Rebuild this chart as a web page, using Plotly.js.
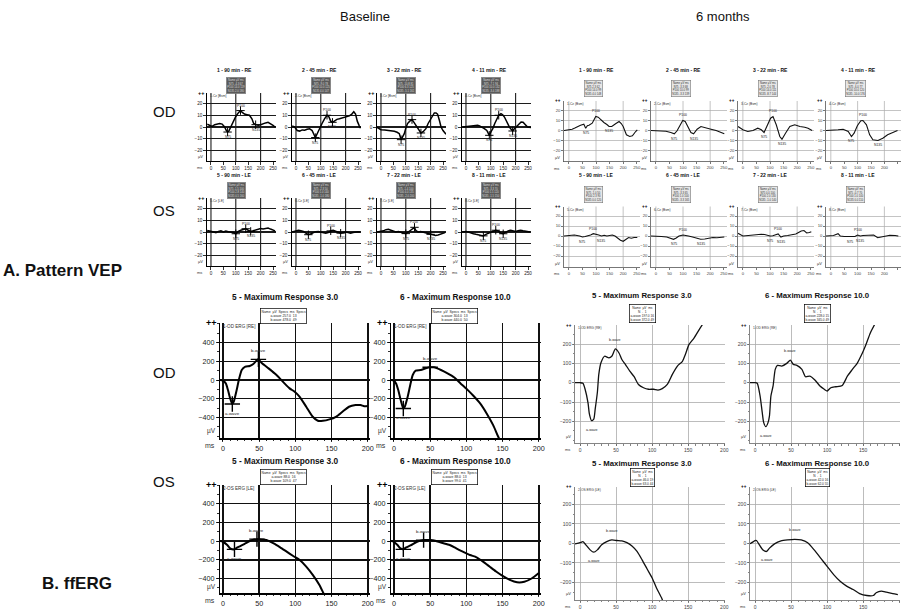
<!DOCTYPE html>
<html><head><meta charset="utf-8">
<script src="https://cdn.plot.ly/plotly-3.0.1.min.js"></script>
<style>html,body{margin:0;padding:0;background:#fff}#chart{width:901px;height:610px}</style>
</head><body><div id="chart"></div>
<script>
// ================= DATA =================
const vepTitles = ['1 - 90 min - RE','2 - 45 min - RE','3 - 22 min - RE','4 - 11 min - RE',
                   '5 - 90 min - LE','6 - 45 min - LE','7 - 22 min - LE','8 - 11 min - LE'];
const ergTitles = ['5 - Maximum Response 3.0','6 - Maximum Response 10.0',
                   '5 - Maximum Response 3.0','6 - Maximum Response 10.0'];
const vepXTicks = [0,50,100,150,200,250];
const vepYTicks = [-20,-10,0,10,20];
const vepGridX  = [0,100,200];
const ergXTicks = [0,50,100,150,200];
const ergBaseYTicks = [-400,-200,0,200,400];
const ergM6YTicks   = [-200,-100,0,100,200];

// Pattern VEP – baseline (ms, µV)
const vepB1_t = [-15,-5,5,15,25,35,45,55,62,67,72,80,90,100,110,119,126,135,145,155,165,172,180,190,200,210,220,230,240,250,258];
const vepB1_v = [2.3,1.5,0.5,2,2.5,3,2.5,0,-3,-4.3,-3.5,0,5,9,12,14,12.5,11,10.5,10,7,3,2,1.5,2,3,3.5,4,3,1.5,0];
const vepB2_t = [-15,-5,5,15,25,35,45,55,65,72,78,85,95,105,115,125,132,140,147,155,165,175,185,195,205,215,225,233,240,247,255,260];
const vepB2_v = [1,0,-3,-3.5,-2.5,-2.8,-2,-1.5,-3,-6,-9,-6,-1,3,7,10,9,5,4,5,6.5,7,7.5,8,8.5,9.5,11,13,11,5,1,-1];
const vepB3_t = [-18,0,15,27,40,54,65,74,81,88,94,100,107,116,125,133,141,150,161,170,181,190,202,210,215,222,228,235,242,250,255,262];
const vepB3_v = [0,-2.3,-2.5,-2.8,-3,-3.7,-4.5,-5.7,-10.8,-8,-5.7,-1,2.9,5,6.3,4,1.4,-2,-5.1,-4,-1.4,3,7.2,10.5,12,12,11,6,0,-3,-4.3,-6.2];
const vepB4_t = [-13,0,10,20,30,40,47,55,65,74,84,94,101,108,116,124,132,141,148,155,165,175,182,188,195,202,212,222,230,235,242,248,262];
const vepB4_v = [0,0.3,0.5,0.6,1,1.4,1.4,1,0,-1.4,-3,-7.1,-4,-1.4,3,7.2,10,11.4,10.5,8.5,4,0,-2,-3.4,-1.5,0,2.5,4.3,4,2.9,1.5,0,-0.5];
const vepB5_t = [-15,0,10,20,30,40,50,60,70,80,90,100,110,120,130,140,150,160,170,180,190,200,210,220,230,240,250,258];
const vepB5_v = [1.4,0.5,0,-0.5,0.5,1,0,0.8,0.3,0,-0.5,-1.5,0.5,1.5,2.5,2.8,1.5,0.5,1,1.5,2,3,2.5,3.2,3.4,2.5,1.5,1];
const vepB6_t = [-15,0,10,20,30,40,50,60,70,80,90,100,110,120,130,140,150,160,170,180,190,200,210,220,230,240,250,258];
const vepB6_v = [0,0.5,1.4,1,0.5,-1,-2.3,-1.5,-0.5,0.3,0.5,0,-0.5,-1,-0.5,1,1.4,0.5,-0.5,-1,-0.5,0,-0.5,-1,-0.5,0,0.3,0];
const vepB7_t = [-15,0,10,20,30,40,50,60,70,80,90,100,110,120,130,135,140,150,160,170,180,190,200,210,220,230,240,250,258];
const vepB7_v = [0,0.5,1,2,2.3,1.5,1,0,0.5,0,-0.5,-1.4,0,1.5,3,4,1.5,0,0.5,0,-0.5,-1,-2,-2.5,-3,-2.5,-2,-1,-0.5];
const vepB8_t = [-15,0,10,20,30,40,50,60,70,80,90,100,110,120,130,140,150,160,170,180,190,200,210,220,230,240,250,258];
const vepB8_v = [0,0.5,0,-1,-1.5,-2,-2.5,-3,-3.3,-2,-1,0,1,1.5,1,-1,-1.5,0,1,1.5,1,0.5,1,1.5,1,0.5,0,0];

// Pattern VEP – 6 months
const vepM1_t = [-18,0,12,22,31,43,55,62,68,74,86,93,99,108,117,129,140,148,158,165,172,185,193,200,206,212,224,234,246,252];
const vepM1_v = [0,0.7,1.3,2.5,4,5.3,6.3,2.3,4.7,5.3,7.3,11,14,13.3,10.7,8,6,4,4,5,6.7,9,7,4,0,-4.3,-6,-5.3,-1,0.7];
const vepM2_t = [-18,0,18,37,55,68,78,90,99,108,117,129,139,152,166,185,203,222,240,252];
const vepM2_v = [0,-0.3,0,-0.7,-2,-3.3,-0.3,5.7,10,9,4,-2,-3.3,1.3,4,2.3,1.3,0,-2,-3.3];
const vepM3_t = [-18,0,18,37,55,68,78,90,102,111,123,136,144,157,173,191,210,228,240,255];
const vepM3_v = [4,0.7,-1,0,2.3,0.7,-2,5.7,12.3,14,5.7,-6,-8.7,-2.7,4,5.7,4,3.3,2.3,0];
const vepM4_t = [-18,3,27,46,65,77,87,99,112,120,133,145,157,176,194,212,231,249];
const vepM4_v = [0,0,0.7,1.3,-1,-6,-2.7,4.7,9.7,10,5.7,-4.3,-9.3,-10,-7.7,-4.3,-2,0];
const vepM5_t = [-18,0,20,40,50,60,70,80,90,100,110,120,130,140,150,160,170,180,190,200,210,220,230,240,252];
const vepM5_v = [0,0.3,1,0,-1,-0.5,0,1,2.3,2,1,0,0.7,0,0.5,1,0,-2,-4.3,-5.3,-3,-1.5,-2.3,-1.5,-1.5];
const vepM6_t = [-18,0,20,40,55,65,75,85,100,110,120,135,150,165,180,195,210,225,240,252];
const vepM6_v = [0,0,-0.5,-1,-2,-3.3,-2,0,1,0.7,0,-1,-2.3,-3.3,-3,-2.3,-1.5,-1.7,-1.3,-1];
const vepM7_t = [-18,0,20,40,60,68,80,90,100,110,120,130,140,150,165,180,195,205,215,225,235,245,252];
const vepM7_v = [2.7,0,0.5,1,2,1.7,1.5,1,0,0.3,1.5,2,-1,0,0.5,1,2,3.5,5,5.5,3,3.5,4.3];
const vepM8_t = [-18,10,27,35,50,70,90,100,110,120,140,160,175,190,205,220,240,252];
const vepM8_v = [0,0.5,2.3,0,-0.5,-0.7,-0.5,1,0,0.5,0.7,1,-1.7,-1,0,0.7,0.5,0];

// ffERG – baseline (ms, µV)
const ergB1_t = [-4,0,4,7,10,13,15,19,22,26,31,37,42,47,49,54,63,74,85,92,99,106,115,124,131,138,147,156,165,174,183,190,195,200];
const ergB1_v = [0,-7,-36,-107,-196,-257,-232,-107,0,107,143,150,171,214,221,179,125,54,-36,-89,-125,-179,-286,-393,-436,-436,-421,-393,-339,-286,-268,-268,-280,-278];
const ergB2_t = [-4,0,3,6,10,13,15,19,23,26,30,37,44,50,55,65,74,83,92,101,110,119,128,137,144,150];
const ergB2_v = [0,-7,-36,-107,-232,-304,-286,-179,-36,54,100,107,125,136,136,107,71,29,-36,-100,-171,-250,-357,-482,-607,-700];
const ergB3_t = [-4,0,6,10,16,20,24,31,40,47,52,60,70,79,88,97,106,115,124,133,141,150];
const ergB3_v = [0,-7,-42,-78,-88,-67,-53,-25,11,21,18,11,-25,-67,-113,-159,-202,-272,-361,-467,-591,-700];
const ergB4_t = [-4,0,5,9,13,17,23,32,41,50,57,66,77,86,95,105,114,123,132,141,150,160,170,180,190,200];
const ergB4_v = [0,-7,-42,-78,-88,-67,-46,-7,11,11,4,-18,-42,-78,-113,-149,-173,-219,-272,-325,-372,-415,-440,-435,-400,-340];

// ffERG – 6 months
const ergM1_t = [-7,0,4,7,11,13,16,19,21,24,26,29,34,40,44,49,54,58,63,69,75,81,88,95,102,108,114,121,128,135,142,146,151,158,165,171];
const ergM1_v = [0,0,-3,-34,-103,-163,-197,-189,-137,-51,43,103,137,129,137,175,154,120,94,60,31,-9,-26,-34,-34,-38,-31,-9,43,86,111,146,197,231,274,309];
const ergM2_t = [-7,0,3,7,10,12,15,18,20,22,25,28,31,37,44,49,53,58,65,70,76,83,90,96,100,105,112,121,128,135,142,149,153,160,167];
const ergM2_v = [0,0,-3,-69,-155,-207,-228,-207,-172,-69,-17,69,90,86,100,117,95,90,69,31,34,14,-17,-34,-43,-26,-21,-14,34,69,103,155,190,259,310];
const ergM3_t = [-7,0,4,8,14,19,24,30,37,44,51,58,65,72,79,86,93,100,106,113,118];
const ergM3_v = [-3,3,8,-8,-34,-46,-34,-8,8,17,14,12,3,-14,-42,-85,-132,-178,-229,-280,-330];
const ergM4_t = [-7,0,2,6,11,16,20,27,36,45,55,64,73,82,91,100,109,118,127,136,145,155,164,168,175,182,191,198];
const ergM4_v = [-3,14,14,-8,-34,-42,-25,-3,12,17,20,17,3,-34,-76,-119,-161,-195,-220,-237,-258,-268,-268,-254,-246,-251,-258,-263];

// ================= BUILD =================
const W = 901, H = 610;
const fx = px => px / W;
const fy = py => 1 - py / H;
const FONT = '"Liberation Sans", Arial, sans-serif';
const traces = [], annotations = [], shapes = [];
const layout = {width: W, height: H, margin: {l:0, r:0, t:0, b:0}, paper_bgcolor: '#fff',
  plot_bgcolor: 'rgba(0,0,0,0)', showlegend: false, font: {family: FONT, color: '#000'},
  annotations, shapes};

function ann(text, x, y, o) {
  annotations.push(Object.assign({text, x, y, xref: 'paper', yref: 'paper', showarrow: false,
    xanchor: 'center', yanchor: 'middle', font: {family: FONT, size: 10, color: '#000'}}, o || {}));
}
function idxExt(t, v, lo, hi, isMax) {
  let b = -1;
  for (let i = 0; i < t.length; i++) {
    if (t[i] < lo || t[i] > hi) continue;
    if (b < 0 || (isMax ? v[i] > v[b] : v[i] < v[b])) b = i;
  }
  return b;
}
const fmt = n => n.toFixed(1);

const ST = {
  vb: {line:'#000', lw:1.5, grid:'#1c1c1c', gw:1.1, axis:'#000', aw:1.3, tc:'#222', fs:4.6, tl:2.5},
  vm: {line:'#111', lw:1.1, grid:'#ababab', gw:0.7, axis:'#555', aw:0.8, tc:'#444', fs:4.2, tl:2},
  eb: {line:'#000', lw:2.0, grid:'#111', gw:1.4, axis:'#000', aw:1.5, tc:'#222', fs:7.2, tl:2.5},
  em: {line:'#111', lw:1.3, grid:'#ababab', gw:0.8, axis:'#666', aw:0.8, tc:'#444', fs:5, tl:2}
};

let axN = 0;
function addPanel(p) {
  axN++;
  const s = ST[p.style];
  const xa = axN === 1 ? 'x' : 'x' + axN, ya = axN === 1 ? 'y' : 'y' + axN;
  const xk = axN === 1 ? 'xaxis' : 'xaxis' + axN, yk = axN === 1 ? 'yaxis' : 'yaxis' + axN;
  const common = {zeroline: false, showline: true, linecolor: s.axis, linewidth: s.aw,
    ticks: 'outside', ticklen: s.tl, tickwidth: 0.8, tickcolor: s.axis, tickmode: 'array',
    gridcolor: s.grid, gridwidth: s.gw, tickfont: {family: FONT, size: s.fs, color: s.tc}, fixedrange: true};
  layout[xk] = Object.assign({}, common, {domain: [fx(p.x0), fx(p.x1)], range: p.xr, anchor: ya,
    tickvals: p.xt, showgrid: !p.gridX});
  layout[yk] = Object.assign({}, common, {domain: [fy(p.y1), fy(p.y0)], range: p.yr, anchor: xa,
    tickvals: p.yt, showgrid: true});
  if (p.minor) {
    layout[xk].minor = {tickmode: 'linear', tick0: 0, dtick: p.minor[0], ticks: 'outside', ticklen: 1.5, tickcolor: s.axis, showgrid: false};
    layout[yk].minor = {tickmode: 'linear', tick0: 0, dtick: p.minor[1], ticks: 'outside', ticklen: 1.5, tickcolor: s.axis, showgrid: false};
  }
  if (p.gridX) p.gridX.forEach(g => shapes.push({type: 'line', xref: xa, yref: ya + ' domain',
    x0: g, x1: g, y0: 0, y1: 1, layer: 'below', line: {color: s.grid, width: s.gw}}));

  traces.push({type: 'scatter', mode: 'lines', x: p.t, y: p.v, xaxis: xa, yaxis: ya, hoverinfo: 'skip',
    line: {color: s.line, width: s.lw, shape: p.kind === 'erg' ? 'spline' : 'linear', smoothing: 0.6}});

  // peaks (computed from the data)
  const small = p.kind === 'erg' ? (p.style === 'eb' ? 4.4 : 3.6) : 3.4;
  let marks = [];
  if (p.kind === 'vep') {
    const n75 = idxExt(p.t, p.v, 50, 100, false);
    const p100 = idxExt(p.t, p.v, 85, 140, true);
    const n135 = idxExt(p.t, p.v, p.t[p100] + 10, p.t[p100] + 70, false);
    marks = [[n75, 'N75', -1], [p100, 'P100', 1], [n135, 'N135', -1]];
    const tb = 'Name µV ms<br>' + marks.map(m => m[1] + ' ' + fmt(p.v[m[0]]) + ' ' + p.t[m[0]]).join('<br>');
    ann(tb, fx(p.tabX), fy(p.tabY), {font: {family: FONT, size: 2.7, color: p.style === 'vb' ? '#ddd' : '#333'},
      bgcolor: p.style === 'vb' ? '#5a5a5a' : '#e6e6e6', bordercolor: p.style === 'vb' ? '#888' : '#777', borderwidth: 0.6, borderpad: 0.6});
  } else {
    const a = idxExt(p.t, p.v, 0, 30, false);
    const b = idxExt(p.t, p.v, 30, 70, true);
    marks = [[a, 'a-wave', -1], [b, 'b-wave', 1]];
    let tb;
    if (p.style === 'eb') tb = 'Name  µV  Specs  ms  Specs<br>a-wave ' + fmt(-p.v[a]) + '  ' + p.t[a] + '<br>b-wave ' + fmt(p.v[b] - p.v[a]) + '  ' + p.t[b];
    else tb = 'Name  µV  ms<br>N  .  1<br>a-wave ' + fmt(-p.v[a]) + ' ' + p.t[a] + '<br>b-wave ' + fmt(p.v[b] - p.v[a]) + ' ' + p.t[b];
    ann(tb, fx(p.tabX), fy(p.tabY), {font: {family: FONT, size: p.style === 'eb' ? 3.4 : 3.2, color: '#222'},
      bgcolor: '#fff', bordercolor: '#000', borderwidth: 0.7, borderpad: 0.8});
  }
  marks.forEach(m => {
    annotations.push({text: m[1], x: p.t[m[0]], y: p.v[m[0]], xref: xa, yref: ya, showarrow: false,
      yshift: m[2] * (p.kind === 'erg' ? 9 : 5), font: {family: FONT, size: small, color: '#222'}});
  });
  if (p.style === 'eb' || p.style === 'vb') {
    traces.push({type: 'scatter', mode: 'markers', x: marks.map(m => p.t[m[0]]), y: marks.map(m => p.v[m[0]]),
      xaxis: xa, yaxis: ya, hoverinfo: 'skip',
      marker: {symbol: 'cross-thin-open', color: '#000', size: p.style === 'eb' ? 11 : 6, line: {color: '#000', width: p.style === 'eb' ? 1.4 : 1}}});
  }

  // titles and axis furniture
  ann('<b>' + p.title + '</b>', fx(p.titX), fy(p.titY), {font: {family: FONT, size: p.titFs, color: '#111'}});
  const dom = {xref: xa + ' domain', yref: ya + ' domain', showarrow: false};
  const big = p.kind === 'erg' && p.style === 'eb';
  annotations.push(Object.assign({}, dom, {text: '<b>++</b>', x: 0, y: 1, xanchor: 'right', yanchor: 'middle', xshift: -1,
    font: {family: FONT, size: big ? 9 : (p.style === 'vb' ? 5.5 : 4.5), color: '#000'}}));
  annotations.push(Object.assign({}, dom, {text: p.chan, x: 0, y: 1, xanchor: 'left', yanchor: 'top', xshift: 1, yshift: 1,
    font: {family: FONT, size: big ? 4.6 : 3.3, color: '#333'}}));
  annotations.push(Object.assign({}, dom, {text: 'µV', x: 0, y: 0.06, xanchor: 'right', yanchor: 'middle', xshift: -2,
    font: {family: FONT, size: big ? 6.5 : 4, color: '#333'}}));
  annotations.push(Object.assign({}, dom, {text: 'ms', x: 0, y: 0, xanchor: 'right', yanchor: 'top', xshift: -3, yshift: -2,
    font: {family: FONT, size: big ? 7 : 4, color: '#333'}}));
}

// ---- Pattern VEP panels ----
const vepB = [[vepB1_t,vepB1_v],[vepB2_t,vepB2_v],[vepB3_t,vepB3_v],[vepB4_t,vepB4_v],
              [vepB5_t,vepB5_v],[vepB6_t,vepB6_v],[vepB7_t,vepB7_v],[vepB8_t,vepB8_v]];
const vepM = [[vepM1_t,vepM1_v],[vepM2_t,vepM2_v],[vepM3_t,vepM3_v],[vepM4_t,vepM4_v],
              [vepM5_t,vepM5_v],[vepM6_t,vepM6_v],[vepM7_t,vepM7_v],[vepM8_t,vepM8_v]];
const VB_X = [207, 292, 377, 462], VM_X = [564, 651, 738, 826];
for (let i = 0; i < 8; i++) {
  const c = i % 4, r = Math.floor(i / 4);
  let x0 = VB_X[c], y0 = r ? 198 : 93;
  addPanel({kind: 'vep', style: 'vb', t: vepB[i][0], v: vepB[i][1], x0, x1: x0 + 69, y0, y1: y0 + 68,
    xr: [-16, 262], yr: [-29, 29], xt: vepXTicks, yt: vepYTicks, gridX: vepGridX,
    title: vepTitles[i], titX: x0 + 27, titY: y0 - 23, titFs: 5, tabX: x0 + 29, tabY: y0 - 8,
    chan: (i + 1) + '-Cz [' + (r ? 'LE' : 'Bsm') + ']'});
  x0 = VM_X[c]; y0 = r ? 206.5 : 101;
  addPanel({kind: 'vep', style: 'vm', t: vepM[i][0], v: vepM[i][1], x0, x1: x0 + 76, y0, y1: y0 + 60.5,
    xr: [-18, 262], yr: [-31, 29.5], xt: vepXTicks, yt: vepYTicks, gridX: vepGridX,
    title: vepTitles[i], titX: x0 + 32, titY: y0 - 31, titFs: 5, tabX: x0 + 29.5, tabY: y0 - 12.5,
    chan: (i + 1) + '-Cz (Bsm)'});
}

// ---- ffERG panels ----
const ergB = [[ergB1_t,ergB1_v],[ergB2_t,ergB2_v],[ergB3_t,ergB3_v],[ergB4_t,ergB4_v]];
const ergM = [[ergM1_t,ergM1_v],[ergM2_t,ergM2_v],[ergM3_t,ergM3_v],[ergM4_t,ergM4_v]];
const EB_X = [220, 391], EM_X = [575, 750];
const EB_Y = [[323, 438, [-620, 610], 297, 316], [485, 593, [-555, 600], 461, 477]];
const EM_Y = [[325, 443.3, [-314, 299], 295, 313.5], [486.7, 600, [-291, 290], 463, 477]];
for (let i = 0; i < 4; i++) {
  const c = i % 2, r = Math.floor(i / 2);
  const eye = r ? '2-OS ERG [LE]' : '1-OD ERG [RE]';
  let x0 = EB_X[c], yy = EB_Y[r];
  addPanel({kind: 'erg', style: 'eb', t: ergB[i][0], v: ergB[i][1], x0, x1: x0 + 150, y0: yy[0], y1: yy[1],
    xr: [-4, 203], yr: yy[2], xt: ergXTicks, yt: ergBaseYTicks, minor: [10, 100],
    title: ergTitles[i], titX: x0 + 65, titY: yy[3], titFs: 8.3, tabX: x0 + 63, tabY: yy[4], chan: eye});
  x0 = EM_X[c]; yy = EM_Y[r];
  addPanel({kind: 'erg', style: 'em', t: ergM[i][0], v: ergM[i][1], x0, x1: x0 + 150, y0: yy[0], y1: yy[1],
    xr: [-7, 201], yr: yy[2], xt: ergXTicks, yt: ergM6YTicks, minor: [10, 50],
    title: ergTitles[i], titX: x0 + 67, titY: yy[3], titFs: 7.8, tabX: x0 + 67, tabY: yy[4],
    chan: eye.replace('[', '(').replace(']', ')')});
}

// ---- figure labels ----
ann('Baseline', fx(365), fy(17), {font: {family: FONT, size: 13, color: '#111'}});
ann('6 months', fx(723), fy(17), {font: {family: FONT, size: 13, color: '#111'}});
[['OD', 112], ['OS', 211], ['OD', 372], ['OS', 482]].forEach(l =>
  ann(l[0], fx(164), fy(l[1]), {font: {family: FONT, size: 15, color: '#111'}}));
ann('<b>A. Pattern VEP</b>', fx(1), fy(270), {xanchor: 'left', font: {family: FONT, size: 17, color: '#111'}});
ann('<b>B. ffERG</b>', fx(40), fy(583), {xanchor: 'left', font: {family: FONT, size: 17, color: '#111'}});

Plotly.newPlot('chart', traces, layout, {staticPlot: true, displayModeBar: false});
</script>
</body></html>
